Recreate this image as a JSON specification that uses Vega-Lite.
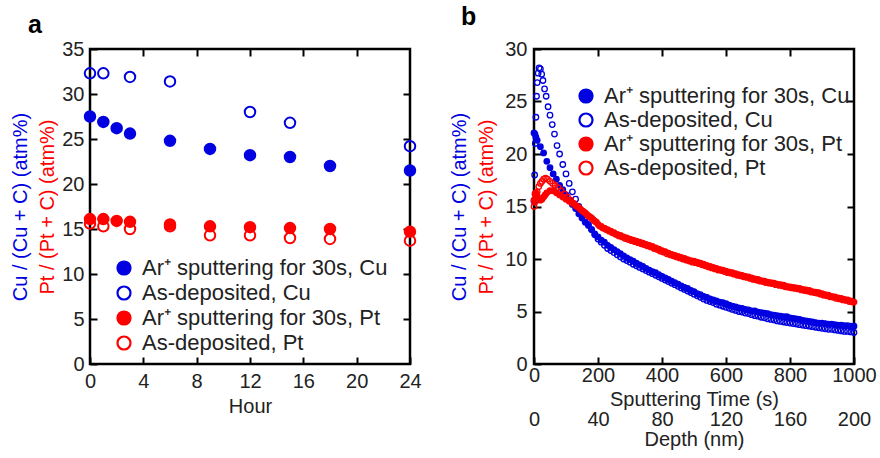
{
 "$schema": "https://vega.github.io/schema/vega-lite/v6.json",
 "padding": {"left": 8, "top": 3, "right": 0, "bottom": 5},
 "spacing": 24,
 "align": "none",
 "datasets": {
  "ha": [
   {"s":"cuO","h":0,"v":32.3},{"s":"cuO","h":1,"v":32.3},{"s":"cuO","h":3,"v":31.9},{"s":"cuO","h":6,"v":31.4},{"s":"cuO","h":12,"v":28.0},{"s":"cuO","h":15,"v":26.8},{"s":"cuO","h":24,"v":24.2},
   {"s":"cuF","h":0,"v":27.5},{"s":"cuF","h":1,"v":26.9},{"s":"cuF","h":2,"v":26.2},{"s":"cuF","h":3,"v":25.6},{"s":"cuF","h":6,"v":24.8},{"s":"cuF","h":9,"v":23.9},{"s":"cuF","h":12,"v":23.2},{"s":"cuF","h":15,"v":23.0},{"s":"cuF","h":18,"v":22.0},{"s":"cuF","h":24,"v":21.5},
   {"s":"ptO","h":0,"v":15.6},{"s":"ptO","h":1,"v":15.3},{"s":"ptO","h":3,"v":15.0},{"s":"ptO","h":6,"v":15.3},{"s":"ptO","h":9,"v":14.3},{"s":"ptO","h":12,"v":14.3},{"s":"ptO","h":15,"v":14.0},{"s":"ptO","h":18,"v":13.9},{"s":"ptO","h":24,"v":13.7},
   {"s":"ptF","h":0,"v":16.1},{"s":"ptF","h":1,"v":16.1},{"s":"ptF","h":2,"v":15.9},{"s":"ptF","h":3,"v":15.8},{"s":"ptF","h":6,"v":15.5},{"s":"ptF","h":9,"v":15.3},{"s":"ptF","h":12,"v":15.2},{"s":"ptF","h":15,"v":15.1},{"s":"ptF","h":18,"v":15.0},{"s":"ptF","h":24,"v":14.7}
  ],
  "sb": [
   {"s":"cuF","t":0,"v":22.0},{"s":"cuF","t":3,"v":21.9},{"s":"cuF","t":6,"v":21.6},{"s":"cuF","t":10,"v":21.3},{"s":"cuF","t":20,"v":20.7},{"s":"cuF","t":30,"v":20.1},{"s":"cuF","t":40,"v":19.3},{"s":"cuF","t":50,"v":18.7},{"s":"cuF","t":60,"v":18.1},{"s":"cuF","t":70,"v":17.6},{"s":"cuF","t":80,"v":17.0},{"s":"cuF","t":90,"v":16.6},{"s":"cuF","t":100,"v":16.1},{"s":"cuF","t":110,"v":15.6},{"s":"cuF","t":120,"v":15.2},{"s":"cuF","t":130,"v":14.8},{"s":"cuF","t":140,"v":14.3},{"s":"cuF","t":150,"v":13.9},{"s":"cuF","t":160,"v":13.5},{"s":"cuF","t":170,"v":13.2},{"s":"cuF","t":180,"v":12.8},{"s":"cuF","t":190,"v":12.4},{"s":"cuF","t":200,"v":12.1},{"s":"cuF","t":210,"v":11.8},{"s":"cuF","t":220,"v":11.6},{"s":"cuF","t":230,"v":11.3},{"s":"cuF","t":240,"v":11.1},{"s":"cuF","t":250,"v":10.9},{"s":"cuF","t":260,"v":10.7},{"s":"cuF","t":270,"v":10.5},{"s":"cuF","t":280,"v":10.3},{"s":"cuF","t":290,"v":10.1},{"s":"cuF","t":300,"v":9.95},{"s":"cuF","t":310,"v":9.8},{"s":"cuF","t":320,"v":9.6},{"s":"cuF","t":330,"v":9.45},{"s":"cuF","t":340,"v":9.3},{"s":"cuF","t":350,"v":9.1},{"s":"cuF","t":360,"v":8.95},{"s":"cuF","t":370,"v":8.8},{"s":"cuF","t":380,"v":8.7},{"s":"cuF","t":390,"v":8.5},{"s":"cuF","t":400,"v":8.35},{"s":"cuF","t":410,"v":8.2},{"s":"cuF","t":420,"v":8.05},{"s":"cuF","t":430,"v":7.9},{"s":"cuF","t":440,"v":7.75},{"s":"cuF","t":450,"v":7.6},{"s":"cuF","t":460,"v":7.45},{"s":"cuF","t":470,"v":7.3},{"s":"cuF","t":480,"v":7.2},{"s":"cuF","t":490,"v":7.0},{"s":"cuF","t":500,"v":6.9},{"s":"cuF","t":510,"v":6.7},{"s":"cuF","t":520,"v":6.6},{"s":"cuF","t":530,"v":6.45},{"s":"cuF","t":540,"v":6.35},{"s":"cuF","t":550,"v":6.2},{"s":"cuF","t":560,"v":6.1},{"s":"cuF","t":570,"v":6.0},{"s":"cuF","t":580,"v":5.9},{"s":"cuF","t":590,"v":5.85},{"s":"cuF","t":600,"v":5.75},{"s":"cuF","t":610,"v":5.6},{"s":"cuF","t":620,"v":5.5},{"s":"cuF","t":630,"v":5.45},{"s":"cuF","t":640,"v":5.35},{"s":"cuF","t":650,"v":5.3},{"s":"cuF","t":660,"v":5.2},{"s":"cuF","t":670,"v":5.15},{"s":"cuF","t":680,"v":5.05},{"s":"cuF","t":690,"v":5.05},{"s":"cuF","t":700,"v":4.95},{"s":"cuF","t":710,"v":4.9},{"s":"cuF","t":720,"v":4.85},{"s":"cuF","t":730,"v":4.8},{"s":"cuF","t":740,"v":4.7},{"s":"cuF","t":750,"v":4.65},{"s":"cuF","t":760,"v":4.6},{"s":"cuF","t":770,"v":4.55},{"s":"cuF","t":780,"v":4.5},{"s":"cuF","t":790,"v":4.5},{"s":"cuF","t":800,"v":4.4},{"s":"cuF","t":810,"v":4.35},{"s":"cuF","t":820,"v":4.3},{"s":"cuF","t":830,"v":4.25},{"s":"cuF","t":840,"v":4.15},{"s":"cuF","t":850,"v":4.1},{"s":"cuF","t":860,"v":4.05},{"s":"cuF","t":870,"v":4.0},{"s":"cuF","t":880,"v":3.95},{"s":"cuF","t":890,"v":3.9},{"s":"cuF","t":900,"v":3.9},{"s":"cuF","t":910,"v":3.85},{"s":"cuF","t":920,"v":3.8},{"s":"cuF","t":930,"v":3.8},{"s":"cuF","t":940,"v":3.75},{"s":"cuF","t":950,"v":3.7},{"s":"cuF","t":960,"v":3.7},{"s":"cuF","t":970,"v":3.65},{"s":"cuF","t":980,"v":3.65},{"s":"cuF","t":990,"v":3.6},{"s":"cuF","t":1000,"v":3.6},
   {"s":"cuO","t":0,"v":15.5},{"s":"cuO","t":2,"v":18.0},{"s":"cuO","t":4,"v":21.0},{"s":"cuO","t":6,"v":23.5},{"s":"cuO","t":8,"v":25.5},{"s":"cuO","t":10,"v":26.8},{"s":"cuO","t":13,"v":27.7},{"s":"cuO","t":16,"v":28.2},{"s":"cuO","t":20,"v":28.1},{"s":"cuO","t":24,"v":27.6},{"s":"cuO","t":28,"v":27.0},{"s":"cuO","t":33,"v":26.2},{"s":"cuO","t":38,"v":25.5},{"s":"cuO","t":44,"v":24.5},{"s":"cuO","t":50,"v":23.7},{"s":"cuO","t":57,"v":22.8},{"s":"cuO","t":64,"v":21.9},{"s":"cuO","t":72,"v":20.8},{"s":"cuO","t":80,"v":20.0},{"s":"cuO","t":90,"v":19.0},{"s":"cuO","t":100,"v":18.1},{"s":"cuO","t":110,"v":17.2},{"s":"cuO","t":120,"v":16.4},{"s":"cuO","t":130,"v":15.7},{"s":"cuO","t":140,"v":15.0},{"s":"cuO","t":150,"v":14.4},{"s":"cuO","t":160,"v":13.8},{"s":"cuO","t":170,"v":13.3},{"s":"cuO","t":180,"v":12.8},{"s":"cuO","t":190,"v":12.3},{"s":"cuO","t":200,"v":11.9},{"s":"cuO","t":210,"v":11.6},{"s":"cuO","t":220,"v":11.3},{"s":"cuO","t":230,"v":11.0},{"s":"cuO","t":240,"v":10.8},{"s":"cuO","t":250,"v":10.6},{"s":"cuO","t":260,"v":10.4},{"s":"cuO","t":270,"v":10.2},{"s":"cuO","t":280,"v":10.0},{"s":"cuO","t":290,"v":9.85},{"s":"cuO","t":300,"v":9.7},{"s":"cuO","t":310,"v":9.5},{"s":"cuO","t":320,"v":9.35},{"s":"cuO","t":330,"v":9.2},{"s":"cuO","t":340,"v":9.05},{"s":"cuO","t":350,"v":8.9},{"s":"cuO","t":360,"v":8.75},{"s":"cuO","t":370,"v":8.6},{"s":"cuO","t":380,"v":8.45},{"s":"cuO","t":390,"v":8.3},{"s":"cuO","t":400,"v":8.15},{"s":"cuO","t":410,"v":8.0},{"s":"cuO","t":420,"v":7.85},{"s":"cuO","t":430,"v":7.7},{"s":"cuO","t":440,"v":7.55},{"s":"cuO","t":450,"v":7.4},{"s":"cuO","t":460,"v":7.25},{"s":"cuO","t":470,"v":7.1},{"s":"cuO","t":480,"v":6.95},{"s":"cuO","t":490,"v":6.8},{"s":"cuO","t":500,"v":6.65},{"s":"cuO","t":510,"v":6.5},{"s":"cuO","t":520,"v":6.35},{"s":"cuO","t":530,"v":6.2},{"s":"cuO","t":540,"v":6.05},{"s":"cuO","t":550,"v":5.95},{"s":"cuO","t":560,"v":5.85},{"s":"cuO","t":570,"v":5.7},{"s":"cuO","t":580,"v":5.6},{"s":"cuO","t":590,"v":5.5},{"s":"cuO","t":600,"v":5.4},{"s":"cuO","t":610,"v":5.3},{"s":"cuO","t":620,"v":5.2},{"s":"cuO","t":630,"v":5.1},{"s":"cuO","t":640,"v":5.0},{"s":"cuO","t":650,"v":4.95},{"s":"cuO","t":660,"v":4.85},{"s":"cuO","t":670,"v":4.8},{"s":"cuO","t":680,"v":4.7},{"s":"cuO","t":690,"v":4.6},{"s":"cuO","t":700,"v":4.55},{"s":"cuO","t":710,"v":4.45},{"s":"cuO","t":720,"v":4.4},{"s":"cuO","t":730,"v":4.3},{"s":"cuO","t":740,"v":4.25},{"s":"cuO","t":750,"v":4.2},{"s":"cuO","t":760,"v":4.1},{"s":"cuO","t":770,"v":4.05},{"s":"cuO","t":780,"v":4.0},{"s":"cuO","t":790,"v":3.95},{"s":"cuO","t":800,"v":3.9},{"s":"cuO","t":810,"v":3.85},{"s":"cuO","t":820,"v":3.8},{"s":"cuO","t":830,"v":3.75},{"s":"cuO","t":840,"v":3.7},{"s":"cuO","t":850,"v":3.65},{"s":"cuO","t":860,"v":3.6},{"s":"cuO","t":870,"v":3.55},{"s":"cuO","t":880,"v":3.5},{"s":"cuO","t":890,"v":3.45},{"s":"cuO","t":900,"v":3.4},{"s":"cuO","t":910,"v":3.35},{"s":"cuO","t":920,"v":3.3},{"s":"cuO","t":930,"v":3.3},{"s":"cuO","t":940,"v":3.25},{"s":"cuO","t":950,"v":3.2},{"s":"cuO","t":960,"v":3.15},{"s":"cuO","t":970,"v":3.1},{"s":"cuO","t":980,"v":3.1},{"s":"cuO","t":990,"v":3.05},{"s":"cuO","t":1000,"v":3.0},
   {"s":"ptF","t":0,"v":15.6},{"s":"ptF","t":3,"v":16.2},{"s":"ptF","t":6,"v":16.3},{"s":"ptF","t":10,"v":16.0},{"s":"ptF","t":15,"v":15.7},{"s":"ptF","t":20,"v":15.6},{"s":"ptF","t":25,"v":15.7},{"s":"ptF","t":30,"v":15.9},{"s":"ptF","t":35,"v":16.1},{"s":"ptF","t":40,"v":16.3},{"s":"ptF","t":50,"v":16.5},{"s":"ptF","t":60,"v":16.5},{"s":"ptF","t":70,"v":16.3},{"s":"ptF","t":80,"v":16.1},{"s":"ptF","t":90,"v":15.9},{"s":"ptF","t":100,"v":15.7},{"s":"ptF","t":110,"v":15.5},{"s":"ptF","t":120,"v":15.3},{"s":"ptF","t":130,"v":15.1},{"s":"ptF","t":140,"v":14.9},{"s":"ptF","t":150,"v":14.6},{"s":"ptF","t":160,"v":14.4},{"s":"ptF","t":170,"v":14.1},{"s":"ptF","t":180,"v":13.9},{"s":"ptF","t":190,"v":13.6},{"s":"ptF","t":200,"v":13.3},{"s":"ptF","t":210,"v":13.1},{"s":"ptF","t":220,"v":12.95},{"s":"ptF","t":230,"v":12.8},{"s":"ptF","t":240,"v":12.65},{"s":"ptF","t":250,"v":12.5},{"s":"ptF","t":260,"v":12.35},{"s":"ptF","t":270,"v":12.25},{"s":"ptF","t":280,"v":12.1},{"s":"ptF","t":290,"v":12.0},{"s":"ptF","t":300,"v":11.9},{"s":"ptF","t":310,"v":11.8},{"s":"ptF","t":320,"v":11.7},{"s":"ptF","t":330,"v":11.6},{"s":"ptF","t":340,"v":11.5},{"s":"ptF","t":350,"v":11.4},{"s":"ptF","t":360,"v":11.3},{"s":"ptF","t":370,"v":11.2},{"s":"ptF","t":380,"v":11.05},{"s":"ptF","t":390,"v":10.95},{"s":"ptF","t":400,"v":10.8},{"s":"ptF","t":410,"v":10.7},{"s":"ptF","t":420,"v":10.55},{"s":"ptF","t":430,"v":10.45},{"s":"ptF","t":440,"v":10.35},{"s":"ptF","t":450,"v":10.25},{"s":"ptF","t":460,"v":10.15},{"s":"ptF","t":470,"v":10.05},{"s":"ptF","t":480,"v":9.95},{"s":"ptF","t":490,"v":9.85},{"s":"ptF","t":500,"v":9.8},{"s":"ptF","t":510,"v":9.7},{"s":"ptF","t":520,"v":9.6},{"s":"ptF","t":530,"v":9.5},{"s":"ptF","t":540,"v":9.4},{"s":"ptF","t":550,"v":9.3},{"s":"ptF","t":560,"v":9.2},{"s":"ptF","t":570,"v":9.1},{"s":"ptF","t":580,"v":9.0},{"s":"ptF","t":590,"v":8.95},{"s":"ptF","t":600,"v":8.85},{"s":"ptF","t":610,"v":8.75},{"s":"ptF","t":620,"v":8.7},{"s":"ptF","t":630,"v":8.6},{"s":"ptF","t":640,"v":8.5},{"s":"ptF","t":650,"v":8.45},{"s":"ptF","t":660,"v":8.35},{"s":"ptF","t":670,"v":8.3},{"s":"ptF","t":680,"v":8.2},{"s":"ptF","t":690,"v":8.1},{"s":"ptF","t":700,"v":8.05},{"s":"ptF","t":710,"v":7.95},{"s":"ptF","t":720,"v":7.9},{"s":"ptF","t":730,"v":7.8},{"s":"ptF","t":740,"v":7.75},{"s":"ptF","t":750,"v":7.7},{"s":"ptF","t":760,"v":7.6},{"s":"ptF","t":770,"v":7.55},{"s":"ptF","t":780,"v":7.5},{"s":"ptF","t":790,"v":7.4},{"s":"ptF","t":800,"v":7.35},{"s":"ptF","t":810,"v":7.3},{"s":"ptF","t":820,"v":7.25},{"s":"ptF","t":830,"v":7.2},{"s":"ptF","t":840,"v":7.1},{"s":"ptF","t":850,"v":7.05},{"s":"ptF","t":860,"v":7.0},{"s":"ptF","t":870,"v":6.9},{"s":"ptF","t":880,"v":6.85},{"s":"ptF","t":890,"v":6.8},{"s":"ptF","t":900,"v":6.7},{"s":"ptF","t":910,"v":6.6},{"s":"ptF","t":920,"v":6.55},{"s":"ptF","t":930,"v":6.45},{"s":"ptF","t":940,"v":6.4},{"s":"ptF","t":950,"v":6.3},{"s":"ptF","t":960,"v":6.25},{"s":"ptF","t":970,"v":6.15},{"s":"ptF","t":980,"v":6.1},{"s":"ptF","t":990,"v":6.0},{"s":"ptF","t":1000,"v":5.9},
   {"s":"ptO","t":0,"v":15.0},{"s":"ptO","t":3,"v":15.4},{"s":"ptO","t":6,"v":15.9},{"s":"ptO","t":10,"v":16.4},{"s":"ptO","t":15,"v":16.9},{"s":"ptO","t":20,"v":17.2},{"s":"ptO","t":25,"v":17.4},{"s":"ptO","t":30,"v":17.6},{"s":"ptO","t":36,"v":17.7},{"s":"ptO","t":42,"v":17.6},{"s":"ptO","t":50,"v":17.4},{"s":"ptO","t":58,"v":17.2},{"s":"ptO","t":66,"v":17.0},{"s":"ptO","t":75,"v":16.8},{"s":"ptO","t":85,"v":16.5},{"s":"ptO","t":95,"v":16.2},{"s":"ptO","t":105,"v":15.9},{"s":"ptO","t":115,"v":15.6},{"s":"ptO","t":125,"v":15.3},{"s":"ptO","t":135,"v":15.0},{"s":"ptO","t":145,"v":14.75},{"s":"ptO","t":155,"v":14.5},{"s":"ptO","t":165,"v":14.25},{"s":"ptO","t":175,"v":14.0},{"s":"ptO","t":185,"v":13.75},{"s":"ptO","t":195,"v":13.5},{"s":"ptO","t":205,"v":13.15},{"s":"ptO","t":215,"v":12.95},{"s":"ptO","t":225,"v":12.8},{"s":"ptO","t":235,"v":12.65},{"s":"ptO","t":245,"v":12.5},{"s":"ptO","t":255,"v":12.35},{"s":"ptO","t":265,"v":12.2},{"s":"ptO","t":275,"v":12.1},{"s":"ptO","t":285,"v":11.95},{"s":"ptO","t":295,"v":11.85},{"s":"ptO","t":305,"v":11.75},{"s":"ptO","t":315,"v":11.65},{"s":"ptO","t":325,"v":11.55},{"s":"ptO","t":335,"v":11.45},{"s":"ptO","t":345,"v":11.35},{"s":"ptO","t":355,"v":11.25},{"s":"ptO","t":365,"v":11.15},{"s":"ptO","t":375,"v":11.0},{"s":"ptO","t":385,"v":10.9},{"s":"ptO","t":395,"v":10.75},{"s":"ptO","t":405,"v":10.65},{"s":"ptO","t":415,"v":10.5},{"s":"ptO","t":425,"v":10.4},{"s":"ptO","t":435,"v":10.3},{"s":"ptO","t":445,"v":10.2},{"s":"ptO","t":455,"v":10.1},{"s":"ptO","t":465,"v":10.0},{"s":"ptO","t":475,"v":9.9},{"s":"ptO","t":485,"v":9.8},{"s":"ptO","t":495,"v":9.7},{"s":"ptO","t":505,"v":9.65},{"s":"ptO","t":515,"v":9.55},{"s":"ptO","t":525,"v":9.45},{"s":"ptO","t":535,"v":9.35},{"s":"ptO","t":545,"v":9.25},{"s":"ptO","t":555,"v":9.15},{"s":"ptO","t":565,"v":9.05},{"s":"ptO","t":575,"v":8.95},{"s":"ptO","t":585,"v":8.9},{"s":"ptO","t":595,"v":8.8},{"s":"ptO","t":605,"v":8.7},{"s":"ptO","t":615,"v":8.65},{"s":"ptO","t":625,"v":8.55},{"s":"ptO","t":635,"v":8.45},{"s":"ptO","t":645,"v":8.4},{"s":"ptO","t":655,"v":8.3},{"s":"ptO","t":665,"v":8.25},{"s":"ptO","t":675,"v":8.15},{"s":"ptO","t":685,"v":8.05},{"s":"ptO","t":695,"v":8.0},{"s":"ptO","t":705,"v":7.9},{"s":"ptO","t":715,"v":7.85},{"s":"ptO","t":725,"v":7.75},{"s":"ptO","t":735,"v":7.7},{"s":"ptO","t":745,"v":7.65},{"s":"ptO","t":755,"v":7.55},{"s":"ptO","t":765,"v":7.5},{"s":"ptO","t":775,"v":7.45},{"s":"ptO","t":785,"v":7.35},{"s":"ptO","t":795,"v":7.3},{"s":"ptO","t":805,"v":7.25},{"s":"ptO","t":815,"v":7.2},{"s":"ptO","t":825,"v":7.15},{"s":"ptO","t":835,"v":7.05},{"s":"ptO","t":845,"v":7.0},{"s":"ptO","t":855,"v":6.95},{"s":"ptO","t":865,"v":6.85},{"s":"ptO","t":875,"v":6.8},{"s":"ptO","t":885,"v":6.75},{"s":"ptO","t":895,"v":6.65},{"s":"ptO","t":905,"v":6.55},{"s":"ptO","t":915,"v":6.5},{"s":"ptO","t":925,"v":6.4},{"s":"ptO","t":935,"v":6.35},{"s":"ptO","t":945,"v":6.25},{"s":"ptO","t":955,"v":6.2},{"s":"ptO","t":965,"v":6.1},{"s":"ptO","t":975,"v":6.05},{"s":"ptO","t":985,"v":5.95},{"s":"ptO","t":995,"v":5.9}
  ]
 },
 "hconcat": [
  {
   "width": 320, "height": 315,
   "title": {"text": "a", "frame": "group", "dx": -62, "offset": 1},
   "data": {"name": "ha"},
   "layer": [
    {
     "mark": {"type": "circle", "size": 110, "strokeWidth": 2, "opacity": 1},
     "encoding": {
      "x": {"field": "h", "type": "quantitative", "scale": {"domain": [0, 24], "nice": false, "zero": false},
            "axis": {"values": [0, 4, 8, 12, 16, 20, 24], "labelPadding": 14, "title": "Hour", "titleY": 42, "titleBaseline": "middle"}},
      "y": {"field": "v", "type": "quantitative", "scale": {"domain": [0, 35], "nice": false},
            "axis": {"values": [0, 5, 10, 15, 20, 25, 30, 35], "labelPadding": 13, "title": "Cu / (Cu + C) (atm%)", "titleColor": "#0000e0", "titleX": -70, "titleBaseline": "middle"}},
      "fill": {"field": "s", "type": "nominal",
               "scale": {"domain": ["cuF", "cuO", "ptF", "ptO"], "range": ["#0000e0", "transparent", "#ff0000", "transparent"]},
               "legend": {"orient": "none", "legendX": 23, "legendY": 208, "title": null, "padding": 0, "rowPadding": 3, "labelOffset": 7, "labelLimit": 400, "labelFont": "Liberation Sans", "labelFontSize": 22, "labelColor": "#222", "symbolSize": 170, "symbolStrokeWidth": 2.2, "symbolType": "circle",
                          "labelExpr": "datum.label == 'cuF' ? 'Ar⁺ sputtering for 30s, Cu' : datum.label == 'cuO' ? 'As-deposited, Cu' : datum.label == 'ptF' ? 'Ar⁺ sputtering for 30s, Pt' : 'As-deposited, Pt'"}},
      "stroke": {"field": "s", "type": "nominal",
               "scale": {"domain": ["cuF", "cuO", "ptF", "ptO"], "range": ["#0000e0", "#0000e0", "#ff0000", "#ff0000"]},
               "legend": {"orient": "none", "legendX": 23, "legendY": 208, "title": null, "padding": 0, "rowPadding": 3, "labelOffset": 7, "labelLimit": 400, "labelFont": "Liberation Sans", "labelFontSize": 22, "labelColor": "#222", "symbolSize": 170, "symbolStrokeWidth": 2.2, "symbolType": "circle",
                          "labelExpr": "datum.label == 'cuF' ? 'Ar⁺ sputtering for 30s, Cu' : datum.label == 'cuO' ? 'As-deposited, Cu' : datum.label == 'ptF' ? 'Ar⁺ sputtering for 30s, Pt' : 'As-deposited, Pt'"}}
     }
    },
    {
     "mark": {"type": "point", "opacity": 0},
     "encoding": {
      "x": {"field": "h", "type": "quantitative", "axis": {"orient": "top", "values": [4, 8, 12, 16, 20], "labels": false, "title": null}},
      "y": {"field": "v", "type": "quantitative", "axis": {"orient": "right", "values": [5, 10, 15, 20, 25, 30], "labels": false, "title": null}}
     }
    },
    {
     "mark": {"type": "point", "opacity": 0},
     "encoding": {
      "x": {"field": "h", "type": "quantitative", "axis": null},
      "y": {"field": "v", "type": "quantitative", "axis": {"orient": "left", "labels": false, "ticks": false, "title": "Pt / (Pt + C) (atm%)", "titleColor": "#ff0000", "titleX": -43, "titleBaseline": "middle"}}
     }
    }
   ],
   "resolve": {"axis": {"x": "independent", "y": "independent"}}
  },
  {
   "width": 320, "height": 315,
   "title": {"text": "b", "frame": "group", "dx": -73, "offset": 9},
   "data": {"name": "sb"},
   "layer": [
    {
     "mark": {"type": "circle", "size": 30, "strokeWidth": 1.3, "opacity": 1},
     "encoding": {
      "x": {"field": "t", "type": "quantitative", "scale": {"domain": [0, 1000], "nice": false, "zero": false},
            "axis": {"values": [0, 200, 400, 600, 800, 1000], "format": "d", "labelPadding": 8, "title": "Sputtering Time (s)", "titleY": 35, "titleBaseline": "middle"}},
      "y": {"field": "v", "type": "quantitative", "scale": {"domain": [0, 30], "nice": false},
            "axis": {"values": [0, 5, 10, 15, 20, 25, 30], "labelPadding": 14, "title": "Cu / (Cu + C) (atm%)", "titleColor": "#0000e0", "titleX": -75, "titleBaseline": "middle"}},
      "fill": {"field": "s", "type": "nominal",
               "scale": {"domain": ["cuF", "cuO", "ptF", "ptO"], "range": ["#0000e0", "transparent", "#ff0000", "transparent"]},
               "legend": {"orient": "none", "legendX": 41, "legendY": 36, "title": null, "padding": 0, "rowPadding": 2, "labelOffset": 7, "labelLimit": 400, "labelFont": "Liberation Sans", "labelFontSize": 22, "labelColor": "#222", "symbolSize": 170, "symbolStrokeWidth": 2.2, "symbolType": "circle",
                          "labelExpr": "datum.label == 'cuF' ? 'Ar⁺ sputtering for 30s, Cu' : datum.label == 'cuO' ? 'As-deposited, Cu' : datum.label == 'ptF' ? 'Ar⁺ sputtering for 30s, Pt' : 'As-deposited, Pt'"}},
      "stroke": {"field": "s", "type": "nominal",
               "scale": {"domain": ["cuF", "cuO", "ptF", "ptO"], "range": ["#0000e0", "#0000e0", "#ff0000", "#ff0000"]},
               "legend": {"orient": "none", "legendX": 41, "legendY": 36, "title": null, "padding": 0, "rowPadding": 2, "labelOffset": 7, "labelLimit": 400, "labelFont": "Liberation Sans", "labelFontSize": 22, "labelColor": "#222", "symbolSize": 170, "symbolStrokeWidth": 2.2, "symbolType": "circle",
                          "labelExpr": "datum.label == 'cuF' ? 'Ar⁺ sputtering for 30s, Cu' : datum.label == 'cuO' ? 'As-deposited, Cu' : datum.label == 'ptF' ? 'Ar⁺ sputtering for 30s, Pt' : 'As-deposited, Pt'"}}
     }
    },
    {
     "mark": {"type": "point", "opacity": 0},
     "encoding": {
      "x": {"field": "t", "type": "quantitative", "axis": {"orient": "top", "values": [200, 400, 600, 800], "labels": false, "title": null}},
      "y": {"field": "v", "type": "quantitative", "axis": {"orient": "right", "values": [5, 10, 15, 20, 25], "labels": false, "title": null}}
     }
    },
    {
     "mark": {"type": "point", "opacity": 0},
     "encoding": {
      "x": {"field": "t", "type": "quantitative", "axis": {"orient": "bottom", "values": [0, 200, 400, 600, 800, 1000], "ticks": false, "labelPadding": 45, "labelExpr": "format(datum.value / 5, 'd')", "title": "Depth (nm)", "titleY": 75, "titleBaseline": "middle"}},
      "y": {"field": "v", "type": "quantitative", "axis": {"orient": "left", "labels": false, "ticks": false, "title": "Pt / (Pt + C) (atm%)", "titleColor": "#ff0000", "titleX": -48, "titleBaseline": "middle"}}
     }
    }
   ],
   "resolve": {"axis": {"x": "independent", "y": "independent"}}
  }
 ],
 "resolve": {"scale": {"fill": "independent", "stroke": "independent"}, "legend": {"fill": "independent", "stroke": "independent"}},
 "config": {
  "font": "Liberation Sans",
  "view": {"stroke": "black", "strokeWidth": 2.5},
  "axis": {"domain": false, "grid": false, "tickColor": "black", "tickWidth": 2, "tickSize": -7, "labelFont": "Liberation Sans", "labelFontSize": 20, "labelColor": "#222", "titleFont": "Liberation Sans", "titleFontSize": 20, "titleFontWeight": "normal", "titleColor": "#222", "labelFlush": false, "labelOverlap": false},
  "title": {"font": "Liberation Sans", "fontSize": 25, "fontWeight": "bold", "color": "black", "anchor": "start"}
 }
}
